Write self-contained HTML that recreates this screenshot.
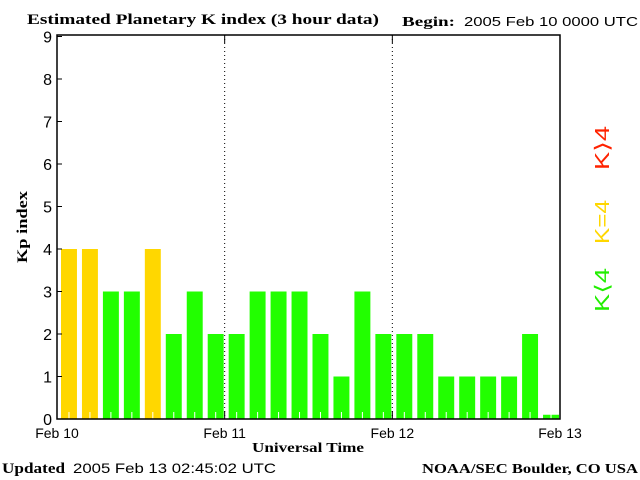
<!DOCTYPE html>
<html><head><meta charset="utf-8"><style>
body{margin:0;background:#fff;}
svg{display:block;}
</style></head><body>
<svg width="640" height="480" xmlns="http://www.w3.org/2000/svg">
<rect width="640" height="480" fill="#fff"/>
<text x="27" y="24" textLength="352" lengthAdjust="spacingAndGlyphs" font-family="Liberation Serif, serif" font-weight="bold" font-size="15">Estimated Planetary K index (3 hour data)</text>
<text x="402" y="26" textLength="53" lengthAdjust="spacingAndGlyphs" font-family="Liberation Serif, serif" font-weight="bold" font-size="14">Begin:</text>
<text x="464" y="26" textLength="174" lengthAdjust="spacingAndGlyphs" font-family="Liberation Sans, sans-serif" font-size="13">2005 Feb 10 0000 UTC</text>
<g id="bars"></g>
<g id="axes"></g>
<text transform="translate(27,227) rotate(-90)" text-anchor="middle" textLength="72" lengthAdjust="spacingAndGlyphs" font-family="Liberation Serif, serif" font-weight="bold" font-size="15">Kp index</text>
<text x="308" y="452" text-anchor="middle" textLength="112" lengthAdjust="spacingAndGlyphs" font-family="Liberation Serif, serif" font-weight="bold" font-size="14">Universal Time</text>
<text transform="translate(609,290) rotate(-90)" text-anchor="middle" textLength="44" lengthAdjust="spacingAndGlyphs" fill="#22ee00" font-family="Liberation Sans, sans-serif" font-size="20">K⟨4</text>
<text transform="translate(609,222) rotate(-90)" text-anchor="middle" textLength="44" lengthAdjust="spacingAndGlyphs" fill="#ffd700" font-family="Liberation Sans, sans-serif" font-size="20">K=4</text>
<text transform="translate(609,148) rotate(-90)" text-anchor="middle" textLength="44" lengthAdjust="spacingAndGlyphs" fill="#ff2200" font-family="Liberation Sans, sans-serif" font-size="20">K⟩4</text>
<text x="2" y="473" textLength="63" lengthAdjust="spacingAndGlyphs" font-family="Liberation Serif, serif" font-weight="bold" font-size="15">Updated</text>
<text x="73" y="473" textLength="203" lengthAdjust="spacingAndGlyphs" font-family="Liberation Sans, sans-serif" font-size="14">2005 Feb 13 02:45:02 UTC</text>
<text x="638" y="473" text-anchor="end" textLength="216" lengthAdjust="spacingAndGlyphs" font-family="Liberation Serif, serif" font-weight="bold" font-size="14">NOAA/SEC Boulder, CO USA</text>
</svg>
<script>
const kpValues=[4,4,3,3,4,2,3,2, 2,3,3,3,2,1,3,2, 2,2,1,1,1,1,2,0.1];
const dayLabels=["Feb 10","Feb 11","Feb 12","Feb 13"];
const yTicks=[0,1,2,3,4,5,6,7,8,9];
const NS="http://www.w3.org/2000/svg";
const L=57,R=560,T=35,B=419;
const y=v=>B-v*(B-79)/8;
const slot=(R-L)/kpValues.length;
const x=i=>L+i*slot;
function mk(t,a,p){const e=document.createElementNS(NS,t);for(const k in a)e.setAttribute(k,a[k]);p.appendChild(e);return e;}
const bars=document.getElementById('bars'),axes=document.getElementById('axes');
kpValues.forEach((v,i)=>{
 const c=v>4?'#ff2200':(v==4?'#ffd700':'#22ff00');
 const r=mk('rect',{x:x(i)+4,y:y(v),width:slot-5,height:B-y(v),fill:c},bars);
 
 
 const t=mk('line',{x1:x(i)+slot/2+1.5,x2:x(i)+slot/2+1.5,y1:B,y2:B-7,stroke:'#fff','stroke-width':1},bars);
 
 
});
mk('rect',{x:L,y:T,width:R-L,height:B-T,fill:'none',stroke:'#000','stroke-width':1.5},axes);
yTicks.forEach(v=>{
 mk('line',{x1:L,x2:L+5,y1:y(v),y2:y(v),stroke:'#000'},axes);
 const t=mk('text',{x:L-5,y:y(v)+6,'text-anchor':'end','font-family':'Liberation Sans, sans-serif','font-size':16},axes);
 t.textContent=v;
 
 
});
dayLabels.forEach((d,i)=>{
 const px=L+i*(R-L)/(dayLabels.length-1);
 if(i>0&&i<dayLabels.length-1){
  mk('line',{x1:px,x2:px,y1:T,y2:B,stroke:'#000','stroke-dasharray':'1,3'},axes);
  mk('line',{x1:px,x2:px,y1:T,y2:T+8,stroke:'#000'},axes);
  mk('line',{x1:px,x2:px,y1:B,y2:B-8,stroke:'#000'},axes);
 }
 const t=mk('text',{x:px,y:438,'text-anchor':'middle','font-family':'Liberation Sans, sans-serif','font-size':14},axes);
 t.textContent=d;
 
 
});
</script>
</body></html>
